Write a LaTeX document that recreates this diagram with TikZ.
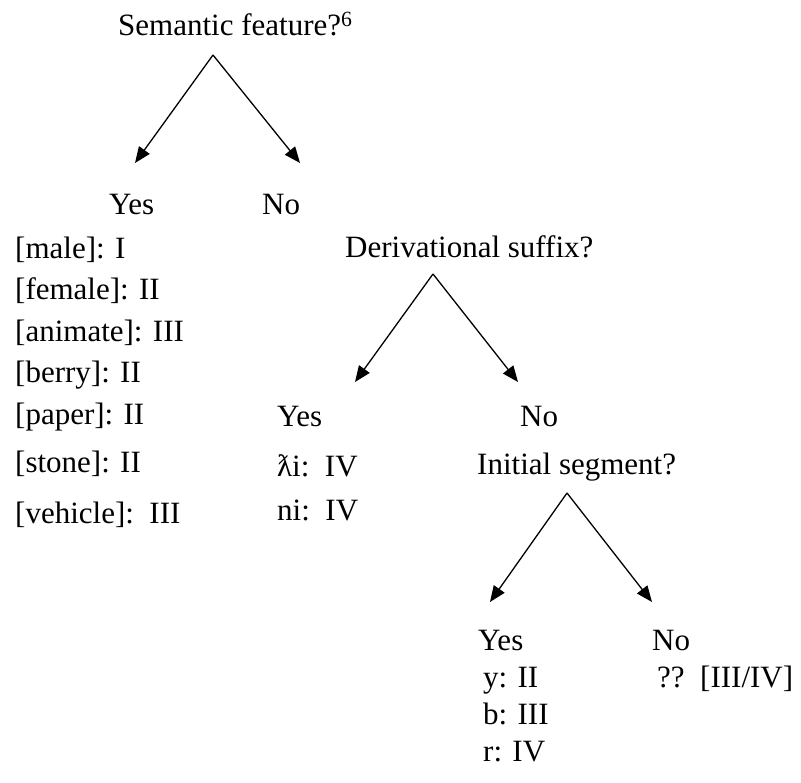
\documentclass[tikz,border=0pt]{standalone}
\usepackage{fontspec}
\setmainfont{Liberation Serif}
\usetikzlibrary{arrows.meta}

\begin{document}
\begin{tikzpicture}[x=1pt,y=-1pt]
                % define styles
\tikzset{txt/.style={anchor=base west,
                       inner sep=0pt,
                       font=\fontsize{31}{36}\selectfont,
                       },
         branch/.style={line width=1.3pt,
                       -{Triangle[length=16pt,width=13pt]},
                       }
}
\useasboundingbox (0,0) rectangle (801,783);

% questions
\node[txt] (sem)  at (118,36)  {Semantic feature?\textsuperscript{6}};
\node[txt] (der)  at (345,258) {Derivational suffix?};
\node[txt] (ini)  at (477,475) {Initial segment?};

% answers
\node[txt] (yes1) at (109,215) {Yes};
\node[txt] (no1)  at (262,215) {No};
\node[txt] (yes2) at (277,427) {Yes};
\node[txt] (no2)  at (520,427) {No};
\node[txt] (yes3) at (478,650) {Yes};
\node[txt] (no3)  at (652,650) {No};

% semantic classes
\foreach \name/\y/\lab in {male/259/{[male]: I},
                           female/300/{[female]: II},
                           animate/342/{[animate]: III},
                           berry/383/{[berry]: II},
                           paper/425/{[paper]: II},
                           stone/473/{[stone]: II},
                           vehicle/523/{[vehicle]:\ \ III}}
    \node[txt] (\name) at (15,\y) {\lab};

% suffixes
\node[txt] (tli) at (277,477) {ƛi:\ \ IV};
\node[txt] (ni)  at (277,520) {ni:\ \ IV};

% initial segments
\node[txt] (segy) at (483,687) {y: II};
\node[txt] (segb) at (483,724) {b: III};
\node[txt] (segr) at (483,761) {r: IV};
\node[txt] (unk)  at (657,687) {??\ \ [III/IV]};

% branch points
\coordinate (top1) at (213,55);
\coordinate (l1)   at (135,163);
\coordinate (r1)   at (300,163);
\coordinate (top2) at (433,274);
\coordinate (l2)   at (355,382);
\coordinate (r2)   at (518,382);
\coordinate (top3) at (567,493);
\coordinate (l3)   at (490,602);
\coordinate (r3)   at (652,602);

\foreach \i in {1,2,3}{
    \draw[branch] (top\i) -- (l\i);
    \draw[branch] (top\i) -- (r\i);
}

\end{tikzpicture}
\end{document}
